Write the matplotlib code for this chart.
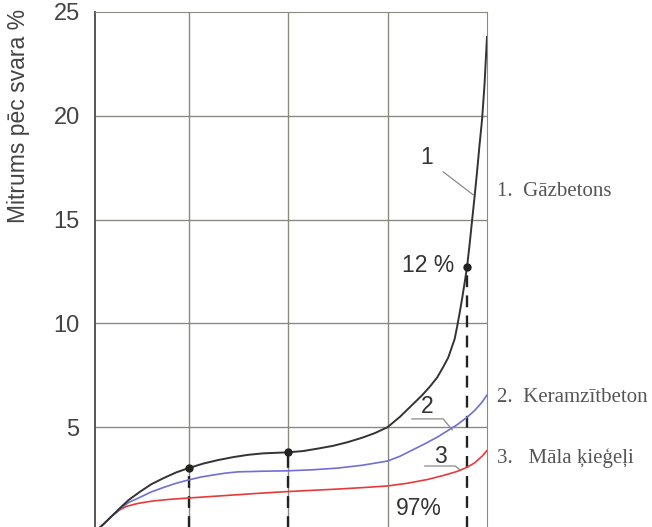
import matplotlib
matplotlib.use('Agg')
import matplotlib.pyplot as plt

# relative humidity (%) vs moisture content by weight (%)
x1 = [21.4, 23, 24.5, 26.2, 28, 30.3, 32.5, 35, 37.5, 40, 43, 46, 49, 52, 55, 60, 63, 66, 69, 72, 75, 77.5, 80,
      81, 82.5, 84, 85.5, 87, 88.5, 90, 91.2, 92.2, 93.5, 94.0, 94.5, 95.0, 95.5, 96.0, 96.5, 97.0, 97.5, 98.0,
      98.5, 99.0, 99.5, 100]
y1 = [0.0, 0.35, 0.7, 1.1, 1.5, 1.9, 2.25, 2.55, 2.82, 3.03, 3.25, 3.42, 3.56, 3.67, 3.74, 3.79, 3.85, 3.97, 4.1, 4.28, 4.5, 4.72, 5.0,
      5.2, 5.5, 5.85, 6.2, 6.55, 6.95, 7.4, 7.9, 8.35, 9.25, 9.85, 10.5, 11.2, 11.95, 12.74, 13.8, 14.95, 16.1, 17.3,
      18.6, 19.8, 21.5, 23.8]

x2 = [21.4, 23, 24.5, 26.2, 28, 30.3, 32.5, 35, 37.5, 40, 42.5, 45, 47.5, 50, 55, 60, 65, 70, 75, 80,
      82.5, 85, 87.5, 90, 92, 94, 96, 97.5, 99, 100]
y2 = [0.0, 0.35, 0.7, 1.06, 1.38, 1.63, 1.88, 2.1, 2.3, 2.46, 2.6, 2.7, 2.79, 2.85, 2.88, 2.9, 2.95, 3.03, 3.17, 3.37,
      3.6, 3.9, 4.2, 4.52, 4.82, 5.12, 5.48, 5.8, 6.2, 6.55]

x3 = [21.4, 23, 24.5, 26.2, 27.5, 29, 30.3, 33, 36, 40, 45, 50, 55, 60, 65, 70, 75, 80,
      84, 88, 91, 94, 96, 97.5, 99, 100]
y3 = [0.0, 0.35, 0.7, 1.02, 1.18, 1.28, 1.35, 1.45, 1.52, 1.59, 1.67, 1.75, 1.83, 1.9, 1.96, 2.02, 2.09, 2.17,
      2.3, 2.48, 2.66, 2.87, 3.07, 3.28, 3.6, 3.87]

# marked points (dashed drop lines)
px = [40, 60, 96]
py = [3.03, 3.79, 12.74]

yticks = [5, 10, 15, 20, 25]
xgrid = [40, 60, 80]
names = ['1.  Gāzbetons', '2.  Keramzītbeton', '3.   Māla ķieģeļi']

fig = plt.figure(figsize=(6.52, 5.27), dpi=100)
ax = fig.add_axes([95/652., -4/527., 392/652., 519/527.])
ax.set_xlim(21.2, 100)
ax.set_ylim(0, 25)

grid_c = '#8a8a80'
for g in yticks[:-1]:
    ax.axhline(g, color=grid_c, lw=1.0, zorder=1)
for g in xgrid:
    ax.axvline(g, color=grid_c, lw=1.0, zorder=1)

ax.plot(x3, y3, color='#e83a3a', lw=1.2, zorder=3)
ax.plot(x2, y2, color='#6f6fd6', lw=1.2, zorder=3)
ax.plot(x1, y1, color='#333333', lw=1.4, zorder=4)

for i in range(len(px)):
    ax.plot([px[i], px[i]], [0, py[i]], color='#222222', lw=1.7, ls=(0, (5, 3.5)), zorder=2)
ax.plot(px, py, 'o', color='#222222', ms=5, zorder=5)

# curve labels with leader lines
lc = '#8a8a8a'
ax.plot([91.2, 97.2], [17.3, 16.2], color=lc, lw=0.9, zorder=2)
ax.plot([84.9, 91.2, 93.0], [5.4, 5.4, 4.87], color=lc, lw=0.9, zorder=2)
ax.plot([87.5, 93.6, 94.6], [3.13, 3.13, 2.94], color=lc, lw=0.9, zorder=2)
tf = dict(family='Liberation Sans', fontsize=16.5, color='#333333', ha='center', va='center')
ax.text(87.9, 18.0, '1', **tf)
ax.text(87.9, 6.02, '2', **tf)
ax.text(90.55, 3.57, '3', **tf)
ax.text(88.1, 12.8, '12 %', **tf)
ax.text(86.3, 1.1, '97%', **tf)

ax.set_yticks(yticks)
ax.set_yticklabels([str(t) for t in yticks])
ax.set_xticks([])
ax.tick_params(axis='y', length=0, pad=11, labelsize=17, labelcolor='#444444')
for lab in ax.get_yticklabels():
    lab.set_family('Liberation Sans')

ax.spines['left'].set_color('#555555')
ax.spines['left'].set_linewidth(1.4)
ax.spines['top'].set_color(grid_c)
ax.spines['right'].set_color(grid_c)
ax.spines['bottom'].set_visible(False)

fig.text(19/652., 1 - 116/527., 'Mitrums pēc svara %', rotation=90, ha='center', va='center',
         family='Liberation Sans', fontsize=16.5, color='#444444')

ly = [192, 398, 458]
for i in range(len(names)):
    fig.text(497/652., 1 - ly[i]/527., names[i], ha='left', va='center',
             family='Liberation Serif', fontsize=15, color='#555555')

fig.savefig('out.png', dpi=100)
